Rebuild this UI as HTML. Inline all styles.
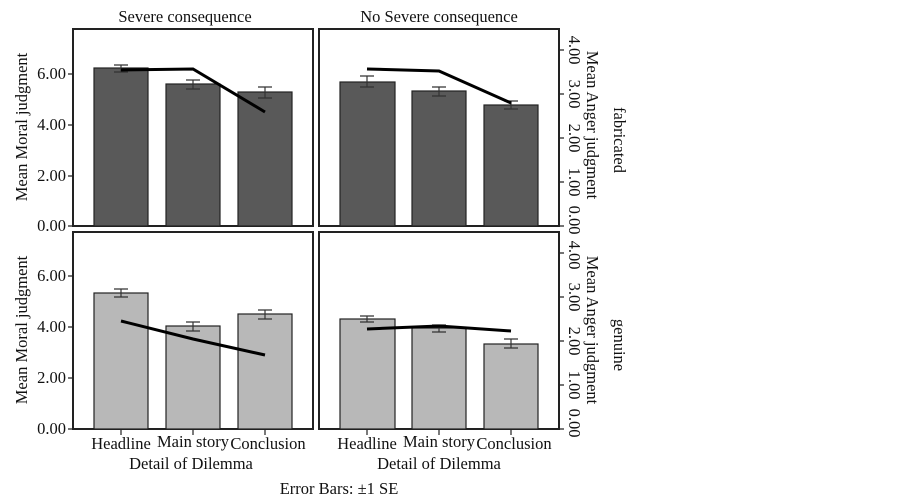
<!DOCTYPE html>
<html><head><meta charset="utf-8"><style>body{margin:0;background:#fff}svg{display:block}text{font-family:"Liberation Serif",serif;fill:#111}</style></head><body>
<svg width="902" height="497" viewBox="0 0 902 497" xmlns="http://www.w3.org/2000/svg">
<g font-size="16.5">
<text x="185" y="22" text-anchor="middle">Severe consequence</text>
<text x="439" y="22" text-anchor="middle">No Severe consequence</text>
</g>
<rect x="73" y="29" width="240" height="197" fill="#fff" stroke="#222" stroke-width="2"/>
<rect x="319" y="29" width="240" height="197" fill="#fff" stroke="#222" stroke-width="2"/>
<rect x="73" y="232" width="240" height="197" fill="#fff" stroke="#222" stroke-width="2"/>
<rect x="319" y="232" width="240" height="197" fill="#fff" stroke="#222" stroke-width="2"/>
<g fill="#595959" stroke="#222" stroke-width="1.2">
<rect x="94" y="68" width="54" height="158"/><rect x="166" y="84" width="54" height="142"/><rect x="238" y="92" width="54" height="134"/>
<rect x="340" y="82" width="55" height="144"/><rect x="412" y="91" width="54" height="135"/><rect x="484" y="105" width="54" height="121"/>
</g>
<g fill="#b8b8b8" stroke="#222" stroke-width="1.2">
<rect x="94" y="293" width="54" height="136"/><rect x="166" y="326" width="54" height="103"/><rect x="238" y="314" width="54" height="115"/>
<rect x="340" y="319" width="55" height="110"/><rect x="412" y="328" width="54" height="101"/><rect x="484" y="344" width="54" height="85"/>
</g>
<g stroke="#333" stroke-width="1.2" fill="none">
<path d="M121 65V72M114 65H128M114 72H128"/><path d="M193 80V89M186 80H200M186 89H200"/><path d="M265 87V98M258 87H272M258 98H272"/>
<path d="M367 76V87M360 76H374M360 87H374"/><path d="M439 87V96M432 87H446M432 96H446"/><path d="M511 101V109M504 101H518M504 109H518"/>
<path d="M121 289V297M114 289H128M114 297H128"/><path d="M193 322V331M186 322H200M186 331H200"/><path d="M265 310V319M258 310H272M258 319H272"/>
<path d="M367 316V322M360 316H374M360 322H374"/><path d="M439 325V332M432 325H446M432 332H446"/><path d="M511 339V348M504 339H518M504 348H518"/>
</g>
<g stroke="#000" stroke-width="3" fill="none">
<polyline points="121,70 193,69 265,112"/><polyline points="367,69 439,71 511,103"/>
<polyline points="121,321 193,339 265,355"/><polyline points="367,329 439,326 511,331"/>
</g>
<g stroke="#222" stroke-width="1.2">
<path d="M68 226H73M68 176H73M68 125H73M68 74H73"/><path d="M68 429H73M68 378H73M68 327H73M68 276H73"/>
<path d="M559 226H564M559 182H564M559 138H564M559 94H564M559 50H564"/>
<path d="M559 429H564M559 385H564M559 341H564M559 297H564M559 253H564"/>
<path d="M121 429V435M193 429V435M265 429V435M367 429V435M439 429V435M511 429V435"/>
</g>
<g font-size="16.5" text-anchor="end">
<text x="66" y="231">0.00</text><text x="66" y="181">2.00</text><text x="66" y="130">4.00</text><text x="66" y="79">6.00</text>
<text x="66" y="434">0.00</text><text x="66" y="383">2.00</text><text x="66" y="332">4.00</text><text x="66" y="281">6.00</text>
</g>
<g font-size="16.5" text-anchor="middle">
<text transform="translate(569,220) rotate(90)">0.00</text><text transform="translate(569,182) rotate(90)">1.00</text><text transform="translate(569,138) rotate(90)">2.00</text><text transform="translate(569,94) rotate(90)">3.00</text><text transform="translate(569,50) rotate(90)">4.00</text>
<text transform="translate(569,423) rotate(90)">0.00</text><text transform="translate(569,385) rotate(90)">1.00</text><text transform="translate(569,341) rotate(90)">2.00</text><text transform="translate(569,297) rotate(90)">3.00</text><text transform="translate(569,255) rotate(90)">4.00</text>
<text transform="translate(587,125) rotate(90)">Mean Anger judgment</text>
<text transform="translate(587,330) rotate(90)">Mean Anger judgment</text>
<text transform="translate(614,140) rotate(90)">fabricated</text>
<text transform="translate(614,345) rotate(90)">genuine</text>
<text transform="translate(27,127) rotate(-90)">Mean Moral judgment</text>
<text transform="translate(27,330) rotate(-90)">Mean Moral judgment</text>
<text x="121" y="449">Headline</text><text x="193" y="447">Main story</text><text x="268" y="449">Conclusion</text>
<text x="367" y="449">Headline</text><text x="439" y="447">Main story</text><text x="514" y="449">Conclusion</text>
<text x="191" y="469">Detail of Dilemma</text><text x="439" y="469">Detail of Dilemma</text>
<text x="339" y="494">Error Bars: ±1 SE</text>
</g>
</svg>
</body></html>
